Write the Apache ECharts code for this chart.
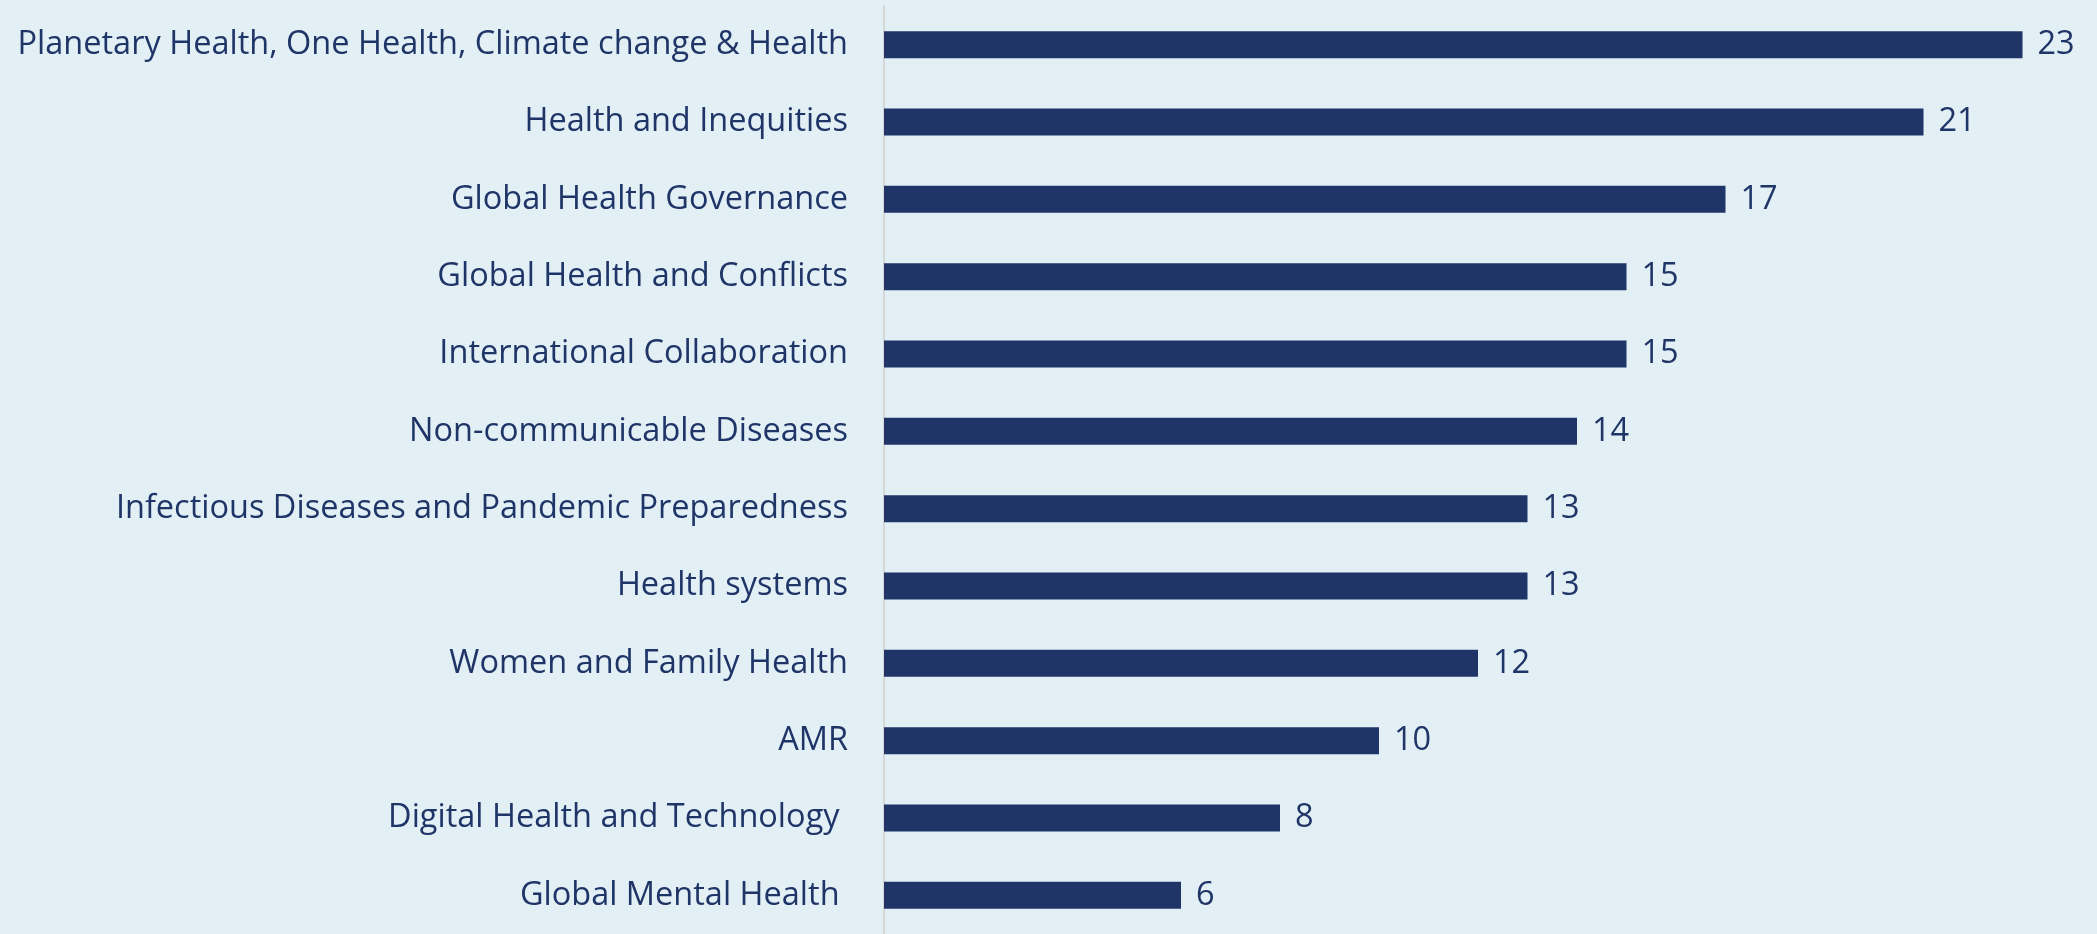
<!DOCTYPE html>
<html>
<head>
<meta charset="utf-8">
<script src="https://cdn.jsdelivr.net/npm/echarts@6/dist/echarts.min.js"></script>
<style>
  html, body { margin: 0; padding: 0; background: #E2EFF4; }
  #main { width: 2097px; height: 934px; }
</style>
</head>
<body>
<div id="main"></div>
<script>
// topics, top to bottom as in the picture
var topics = [
  'Planetary Health, One Health, Climate change & Health',
  'Health and Inequities',
  'Global Health Governance',
  'Global Health and Conflicts',
  'International Collaboration',
  'Non-communicable Diseases',
  'Infectious Diseases and Pandemic Preparedness',
  'Health systems',
  'Women and Family Health',
  'AMR',
  'Digital Health and Technology ',
  'Global Mental Health '
];
var counts = [23, 21, 17, 15, 15, 14, 13, 13, 12, 10, 8, 6];

var navy = '#1F3568';

var chart = echarts.init(document.getElementById('main'));
chart.setOption({
  backgroundColor: '#E2EFF4',
  animation: false,
  grid: { left: 884, top: 6, width: 1188, height: 934 },
  xAxis: {
    type: 'value',
    min: 0,
    max: 24,
    show: false
  },
  yAxis: {
    type: 'category',
    data: topics,
    inverse: true,
    axisTick: { show: false },
    axisLine: { show: true, lineStyle: { color: '#D6D6D6', width: 2 } },
    axisLabel: {
      color: navy,
      fontFamily: 'Open Sans',
      fontSize: 32.5,
      margin: 36
    }
  },
  series: [{
    type: 'bar',
    data: counts,
    barWidth: 27,
    itemStyle: { color: navy },
    label: {
      show: true,
      position: 'right',
      distance: 15,
      color: navy,
      fontFamily: 'Open Sans',
      fontSize: 32.5
    }
  }]
});
</script>
</body>
</html>
